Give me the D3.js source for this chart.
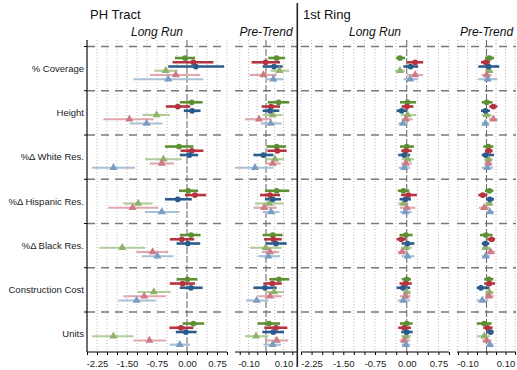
<!DOCTYPE html>
<html><head><meta charset="utf-8">
<script src="https://cdn.jsdelivr.net/npm/d3@7"></script>
<style>body{margin:0;background:#fff}svg{display:block;font-family:"Liberation Sans",Arial,sans-serif}</style>
</head><body><svg id="c" width="517" height="370"></svg>
<script>
const groups = ["% Coverage","Height","%\u0394 White Res.","%\u0394 Hispanic Res.","%\u0394 Black Res.","Construction Cost","Units"];
const seriesNames = ["A","B","C","A-tri","B-tri","C-tri"];
const seriesShape = ["circle","circle","circle","triangle","triangle","triangle"];
const longRunTicks = [-2.25,-1.5,-0.75,0,0.75];
const preTrendTicks = [-0.10,0.10];

// [estimate, low, high] per group x series
const phLongRun = [
 [[-0.05,-0.30,0.20],[0.16,-0.36,0.66],[0.22,-0.47,0.93],[-0.53,-0.82,-0.24],[-0.28,-0.93,0.33],[-0.47,-1.34,0.41]],
 [[0.12,-0.18,0.39],[-0.23,-0.53,0.08],[0.13,-0.08,0.34],[-0.76,-1.11,-0.43],[-1.44,-2.09,-0.83],[-1.01,-1.43,-0.61]],
 [[-0.20,-0.55,0.16],[0.12,-0.16,0.41],[0.06,-0.18,0.28],[-0.59,-1.05,-0.13],[-0.63,-0.93,-0.33],[-1.84,-2.38,-1.30]],
 [[0.03,-0.20,0.28],[0.20,-0.05,0.48],[-0.23,-0.55,0.12],[-1.22,-1.59,-0.86],[-1.36,-1.97,-0.72],[-0.63,-1.05,-0.19]],
 [[0.10,-0.18,0.34],[-0.13,-0.43,0.18],[0.02,-0.26,0.33],[-1.62,-2.19,-1.05],[-0.86,-1.26,-0.47],[-0.74,-1.13,-0.34]],
 [[0.01,-0.26,0.26],[-0.11,-0.43,0.20],[0.10,-0.18,0.39],[-0.83,-1.24,-0.41],[-1.07,-1.59,-0.53],[-1.26,-1.72,-0.78]],
 [[0.16,-0.11,0.43],[-0.15,-0.44,0.16],[-0.03,-0.28,0.24],[-1.84,-2.37,-1.34],[-0.94,-1.34,-0.53],[-0.18,-0.43,0.08]]
];
const phPreTrend = [
 [[0.061,0.013,0.109],[-0.002,-0.082,0.080],[0.046,-0.019,0.095],[0.076,0.027,0.133],[-0.015,-0.095,0.061],[0.042,-0.006,0.099]],
 [[0.072,0.010,0.133],[0.029,-0.025,0.080],[0.023,-0.019,0.076],[0.038,-0.019,0.095],[-0.040,-0.120,0.032],[0.027,-0.030,0.090]],
 [[0.061,0.004,0.114],[0.065,0.008,0.118],[-0.015,-0.072,0.042],[0.051,0.000,0.103],[0.038,-0.006,0.084],[-0.063,-0.177,0.042]],
 [[0.061,-0.006,0.133],[0.023,-0.034,0.080],[0.038,-0.006,0.086],[0.019,-0.063,0.099],[-0.011,-0.072,0.061],[0.029,-0.019,0.076]],
 [[0.038,-0.019,0.095],[0.042,-0.011,0.090],[0.057,0.000,0.118],[-0.002,-0.091,0.090],[0.023,-0.025,0.076],[0.013,-0.044,0.080]],
 [[0.074,0.019,0.133],[0.036,-0.015,0.090],[-0.006,-0.072,0.061],[0.046,-0.006,0.103],[0.023,-0.044,0.090],[-0.053,-0.114,0.013]],
 [[0.017,-0.048,0.080],[0.057,-0.010,0.122],[0.042,-0.021,0.103],[-0.057,-0.120,0.013],[0.061,0.000,0.127],[0.038,-0.015,0.086]]
];
const ringLongRun = [
 [[-0.16,-0.25,-0.04],[0.20,0.00,0.39],[0.09,-0.08,0.27],[-0.16,-0.28,-0.04],[0.20,0.01,0.39],[0.08,-0.08,0.27]],
 [[0.02,-0.16,0.22],[0.00,-0.12,0.16],[-0.12,-0.24,0.02],[0.02,-0.14,0.22],[-0.02,-0.12,0.14],[-0.09,-0.20,0.02]],
 [[0.00,-0.16,0.17],[-0.02,-0.13,0.12],[-0.06,-0.20,0.08],[0.02,-0.12,0.17],[-0.02,-0.13,0.12],[-0.06,-0.19,0.08]],
 [[-0.08,-0.21,0.06],[0.04,-0.13,0.24],[-0.03,-0.17,0.10],[-0.08,-0.20,0.04],[0.00,-0.16,0.20],[-0.03,-0.16,0.12]],
 [[-0.02,-0.17,0.14],[-0.13,-0.24,-0.02],[0.02,-0.12,0.18],[-0.02,-0.14,0.12],[-0.11,-0.21,0.00],[0.02,-0.12,0.18]],
 [[0.00,-0.12,0.10],[-0.03,-0.17,0.12],[-0.09,-0.24,0.08],[0.00,-0.09,0.10],[-0.03,-0.16,0.09],[-0.08,-0.21,0.08]],
 [[0.00,-0.16,0.14],[-0.06,-0.20,0.10],[0.00,-0.13,0.14],[-0.02,-0.13,0.10],[-0.06,-0.17,0.08],[-0.02,-0.12,0.08]]
];
const ringPreTrend = [
 [[0.015,-0.008,0.039],[-0.004,-0.029,0.018],[0.011,-0.043,0.067],[0.015,-0.008,0.032],[0.001,-0.025,0.027],[0.006,-0.043,0.057]],
 [[0.001,-0.025,0.032],[0.036,0.015,0.057],[-0.006,-0.029,0.018],[0.001,-0.025,0.027],[0.036,0.013,0.059],[-0.006,-0.025,0.015]],
 [[0.010,-0.017,0.036],[0.013,-0.008,0.032],[-0.004,-0.025,0.039],[0.010,-0.012,0.032],[0.010,-0.012,0.030],[0.004,-0.025,0.036]],
 [[0.015,-0.008,0.036],[-0.020,-0.043,0.004],[0.018,-0.003,0.039],[0.015,-0.004,0.032],[-0.012,-0.039,0.015],[0.018,-0.003,0.039]],
 [[-0.003,-0.034,0.032],[0.027,0.004,0.045],[-0.006,-0.025,0.015],[-0.004,-0.025,0.018],[0.022,0.004,0.045],[-0.004,-0.025,0.018]],
 [[0.013,-0.012,0.036],[0.015,-0.012,0.045],[-0.029,-0.051,0.015],[0.015,-0.008,0.036],[0.013,-0.008,0.039],[-0.022,-0.051,0.010]],
 [[-0.012,-0.051,0.027],[0.006,-0.017,0.032],[0.022,0.001,0.036],[-0.012,-0.051,0.018],[0.001,-0.022,0.027],[0.018,0.001,0.036]]
];

const barColor = ["#5e8f33","#b5323f","#2b5b8c","#b3cc9b","#e0a8ae","#a9c0d6"];
const markColor = ["#5e8f33","#b5323f","#2b5b8c","#8fb26b","#cf7a83","#7b9cc0"];

const svg = d3.select("#c");
const yTop = 40, yBot = 352;
const ySep = d3.scaleLinear().domain([0, 7]).range([46.5, 356.25]);
const off = d3.scaleLinear().domain([0, 5]).range([-10.6, 10.6]);

const panels = [
  {data: phLongRun, x: d3.scaleLinear().domain([-2.5, 1.0]).range([87, 227]), grid: d3.range(-2.5, 1.001, 0.25), labels: longRunTicks, title: "Long Run"},
  {data: phPreTrend, x: d3.scaleLinear().domain([-0.177, 0.177]).range([235, 297]), grid: d3.range(-0.15, 0.151, 0.05), labels: preTrendTicks, title: "Pre-Trend"},
  {data: ringLongRun, x: d3.scaleLinear().domain([-2.5, 1.0]).range([301, 449]), grid: d3.range(-2.5, 1.001, 0.25), labels: longRunTicks, title: "Long Run"},
  {data: ringPreTrend, x: d3.scaleLinear().domain([-0.155, 0.155]).range([457, 516]), grid: d3.range(-0.15, 0.151, 0.05), labels: preTrendTicks, title: "Pre-Trend"}
];

panels.forEach(p => {
  const g = svg.append("g");
  const [x0, x1] = p.x.range();
  g.selectAll(".gr").data(p.grid.filter(v => Math.abs(v) > 1e-9)).join("line")
    .attr("x1", d => p.x(d)).attr("x2", d => p.x(d)).attr("y1", yTop).attr("y2", yBot)
    .attr("stroke", "#a8a8a8").attr("stroke-width", 0.8).attr("stroke-dasharray", "1,2");
  g.selectAll(".sep").data(d3.range(0, 7)).join("line")
    .attr("x1", x0).attr("x2", x1).attr("y1", d => ySep(d)).attr("y2", d => ySep(d))
    .attr("stroke", "#7a7a7a").attr("stroke-width", 1.6).attr("stroke-dasharray", "8,6");
  g.append("line").attr("x1", p.x(0)).attr("x2", p.x(0)).attr("y1", yTop).attr("y2", yBot)
    .attr("stroke", "#6e6e6e").attr("stroke-width", 1.1).attr("stroke-dasharray", "7,2");
  const ax = d3.axisBottom(p.x).tickValues(p.grid).tickSize(3)
    .tickFormat(d => p.labels.some(l => Math.abs(l - d) < 1e-9) ? d.toFixed(2) : "");
  const axg = g.append("g").attr("transform", `translate(0,${yBot})`).call(ax);
  axg.select(".domain").attr("stroke", "#000").attr("d", `M${x0},0H${x1}`);
  axg.selectAll(".tick line").attr("stroke", "#000");
  axg.selectAll(".tick text").attr("font-size", 9.5).attr("fill", "#222").attr("dy", "0.95em")
    .attr("font-family", '"Liberation Sans",Arial,sans-serif');
  g.append("text").attr("x", (x0 + x1) / 2).attr("y", 36).attr("text-anchor", "middle")
    .attr("font-size", 12).attr("font-style", "italic").attr("fill", "#111").text(p.title);
  const rows = [];
  p.data.forEach((grp, gi) => grp.forEach((v, si) => rows.push({gi, si, est: v[0], lo: v[1], hi: v[2]})));
  const ordered = rows.slice().sort((a, b) => (a.si >= 3 ? 0 : 1) - (b.si >= 3 ? 0 : 1));
  const yOf = d => ySep(d.gi + 0.5) + off(d.si);
  g.selectAll(".bar").data(ordered).join("line")
    .attr("x1", d => p.x(d.lo)).attr("x2", d => p.x(d.hi))
    .attr("y1", yOf).attr("y2", yOf)
    .attr("stroke", d => barColor[d.si]).attr("stroke-width", d => d.si < 3 ? 2.6 : 2.2);
  g.selectAll(".pt").data(ordered).join("path")
    .attr("transform", d => `translate(${p.x(d.est)},${yOf(d)})`)
    .attr("d", d => seriesShape[d.si] === "circle" ? d3.symbol(d3.symbolCircle, 26)() : d3.symbol(d3.symbolTriangle, 28)())
    .attr("fill", d => markColor[d.si]);
});

svg.append("line").attr("x1", 87).attr("x2", 87).attr("y1", yTop).attr("y2", yBot).attr("stroke", "#000").attr("stroke-width", 1.1);
svg.selectAll(".yt").data(d3.range(0, 7)).join("line")
  .attr("x1", 84).attr("x2", 87).attr("y1", d => ySep(d)).attr("y2", d => ySep(d)).attr("stroke", "#000");
svg.selectAll(".yl").data(groups).join("text")
  .attr("x", 84).attr("y", (d, i) => ySep(i + 0.5)).attr("dy", "0.35em").attr("text-anchor", "end")
  .attr("font-size", 9.5).attr("fill", "#222").text(d => d);

svg.append("line").attr("x1", 297.3).attr("x2", 297.3).attr("y1", 3).attr("y2", 367).attr("stroke", "#222").attr("stroke-width", 1.6);

svg.append("text").attr("x", 90).attr("y", 18.5).attr("font-size", 13).attr("fill", "#111").text("PH Tract");
svg.append("text").attr("x", 303).attr("y", 18.5).attr("font-size", 13).attr("fill", "#111").text("1st Ring");
</script></body></html>
